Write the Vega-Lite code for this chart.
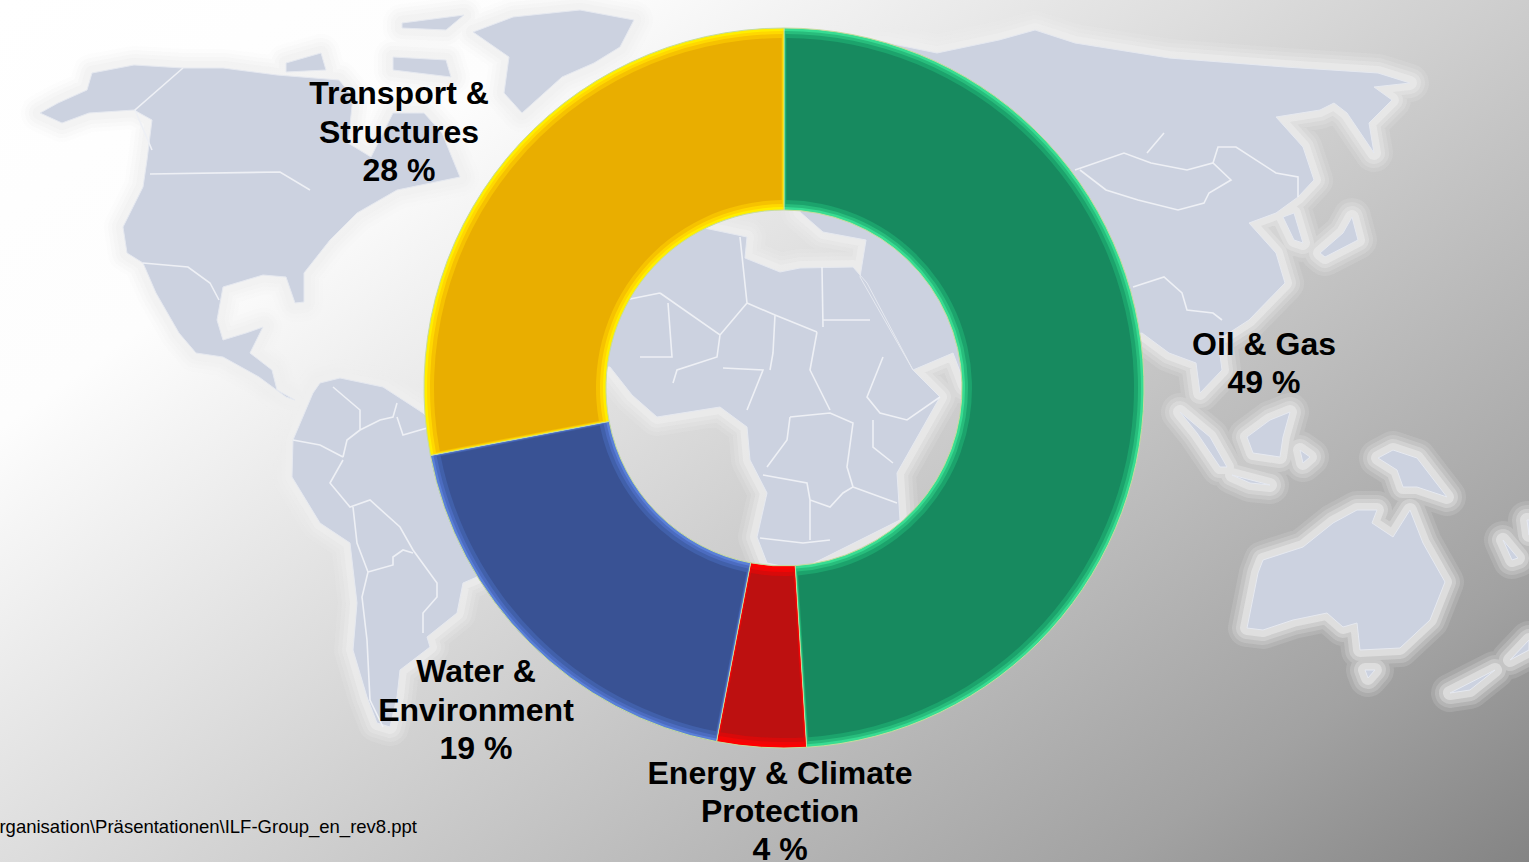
{
"$schema":"https://vega.github.io/schema/vega-lite/v6.json",
"width":1529,"height":862,
"padding":0,
"autosize":{"type":"none"},
"background":"#ffffff",
"config":{"view":{"stroke":null}},
"datasets":{
"sectors":[
{"sector":"Oil & Gas","share":49,"rank":1},
{"sector":"Energy & Climate Protection","share":4,"rank":2},
{"sector":"Water & Environment","share":19,"rank":3},
{"sector":"Transport & Structures","share":28,"rank":4}
],
"land":[
{"type":"Feature","geometry":{"type":"MultiPolygon","coordinates":[
[[[40,113],[58,103],[87,90],[92,73],[134,65],[183,68],[223,68],[277,75],[339,80],[353,97],[348,143],[371,157],[393,113],[424,113],[442,133],[460,177],[397,190],[357,213],[330,240],[304,273],[304,302],[295,303],[286,277],[263,275],[223,287],[217,320],[223,340],[246,333],[263,327],[250,353],[272,370],[277,390],[295,400],[286,397],[259,377],[223,357],[196,353],[179,333],[156,293],[143,263],[127,253],[123,227],[143,187],[147,160],[152,120],[134,110],[89,113],[62,123],[40,113]]],
[[[473,32],[513,17],[580,10],[634,20],[620,47],[594,63],[562,77],[522,113],[504,93],[509,57],[473,32]]],
[[[286,63],[321,53],[326,70],[286,72],[286,63]]],
[[[393,57],[446,60],[451,77],[393,70],[393,57]]],
[[[402,23],[464,15],[446,30],[402,28],[402,23]]],
[[[293,440],[313,393],[320,383],[340,378],[383,387],[423,413],[460,450],[490,560],[477,577],[463,583],[457,613],[427,637],[430,647],[400,670],[397,697],[390,727],[377,723],[367,697],[353,650],[357,603],[350,543],[320,523],[292,477],[293,440]]],
[[[600,367],[610,367],[632,395],[657,417],[720,407],[747,427],[750,460],[767,493],[757,537],[767,563],[800,570],[900,520],[897,473],[940,397],[913,370],[867,283],[853,267],[800,268],[780,272],[745,258],[747,237],[690,225],[620,240],[590,330],[600,367]]],
[[[800,212],[823,232],[866,240],[860,277],[913,370],[953,353],[965,385],[1100,340],[1142,333],[1169,353],[1196,363],[1200,393],[1222,370],[1218,340],[1249,320],[1285,283],[1276,253],[1249,223],[1276,213],[1298,197],[1314,180],[1303,147],[1276,117],[1320,110],[1334,103],[1347,113],[1374,153],[1369,123],[1392,100],[1374,87],[1410,83],[1378,73],[1285,67],[1169,58],[1075,43],[1035,30],[999,40],[937,53],[888,43],[820,40],[800,100],[800,212]]],
[[[1352,217],[1358,240],[1325,257],[1320,253],[1343,233],[1352,217]]],
[[[1294,213],[1303,243],[1294,240],[1283,217],[1294,213]]],
[[[1180,412],[1210,437],[1227,467],[1220,467],[1197,433],[1180,412]]],
[[[1247,437],[1270,420],[1290,412],[1283,437],[1280,457],[1253,453],[1247,437]]],
[[[1232,475],[1270,485],[1250,483],[1232,475]]],
[[[1300,450],[1310,457],[1303,463],[1300,450]]],
[[[1378,458],[1393,450],[1417,458],[1447,497],[1417,487],[1403,487],[1397,470],[1378,458]]],
[[[1247,628],[1258,573],[1263,560],[1303,547],[1333,523],[1357,510],[1377,510],[1372,523],[1393,537],[1410,510],[1423,543],[1445,582],[1430,620],[1400,648],[1360,650],[1357,623],[1343,627],[1327,613],[1293,620],[1263,630],[1247,628]]],
[[[1365,670],[1375,670],[1368,678],[1365,670]]],
[[[1450,693],[1495,670],[1470,690],[1450,693]]],
[[[1510,660],[1529,640],[1529,650],[1510,660]]],
[[[1503,540],[1518,558],[1512,560],[1503,540]]],
[[[1527,520],[1529,520],[1529,535],[1527,520]]]
]}}
],
"borders":[
{"type":"Feature","geometry":{"type":"MultiLineString","coordinates":[
[[183,68],[135,110],[152,150]],
[[150,174],[280,172],[310,190]],
[[143,263],[188,267],[210,283],[219,300]],
[[740,237],[747,303],[720,335],[660,293]],
[[747,303],[775,315],[817,332]],
[[823,320],[870,320]],
[[822,267],[823,327]],
[[817,332],[810,370],[830,410]],
[[775,315],[773,353],[770,370]],
[[668,303],[672,357],[640,357]],
[[720,335],[717,357],[677,370],[673,383]],
[[723,368],[763,370],[747,410]],
[[790,417],[830,413],[853,423],[847,467],[853,487],[843,493],[830,507],[810,500],[807,483],[763,475]],
[[790,417],[787,440],[767,467]],
[[883,357],[867,397],[880,413],[907,420],[940,397]],
[[853,487],[897,503]],
[[873,420],[873,447],[893,463]],
[[760,538],[803,543],[830,540]],
[[810,500],[810,540]],
[[660,293],[625,300]],
[[333,387],[360,410],[360,430],[347,440],[343,457]],
[[343,460],[330,483],[350,507],[370,500],[400,527],[413,550],[437,583],[437,597],[423,613],[423,633]],
[[353,507],[357,543],[368,572],[362,597],[367,640],[370,700],[383,727]],
[[368,572],[393,565],[393,557],[403,550],[413,553]],
[[360,430],[380,420],[393,417],[397,403]],
[[397,417],[403,435],[427,428]],
[[293,440],[320,445],[343,457]],
[[1075,170],[1124,153],[1151,163],[1187,170],[1213,163],[1231,180],[1209,193],[1204,203],[1178,210],[1138,200],[1106,190],[1080,170]],
[[1213,163],[1218,147],[1236,147],[1276,173],[1298,177],[1298,197]],
[[1133,287],[1164,277],[1182,293],[1187,310],[1213,313],[1222,320]],
[[1164,133],[1147,153]]
]}}
]
},
"layer":[
{"data":{"name":"sectors"},
 "mark":{"type":"rect","color":{"gradient":"linear","x1":0,"y1":0,"x2":1.1,"y2":0.873,"stops":[{"offset":0,"color":"#ffffff"},{"offset":0.22,"color":"#fdfdfd"},{"offset":0.44,"color":"#dedede"},{"offset":0.55,"color":"#cecece"},{"offset":0.7,"color":"#b8b8b8"},{"offset":0.85,"color":"#a2a2a2"},{"offset":1,"color":"#848484"}]}},
 "encoding":{
  "x":{"datum":0,"type":"quantitative","scale":{"domain":[0,1529],"nice":false,"zero":false},"axis":null},
  "x2":{"datum":1529},
  "y":{"datum":0,"type":"quantitative","scale":{"domain":[862,0],"nice":false,"zero":false},"axis":null},
  "y2":{"datum":862}}},
{"data":{"name":"land"},"projection":{"type":"identity","scale":1,"translate":[0,0]},
 "mark":{"type":"geoshape","filled":false,"stroke":"#eeeeee","strokeWidth":38,"strokeOpacity":0.14,"strokeJoin":"round"}},
{"data":{"name":"land"},"projection":{"type":"identity","scale":1,"translate":[0,0]},
 "mark":{"type":"geoshape","filled":false,"stroke":"#eeeeee","strokeWidth":30,"strokeOpacity":0.2,"strokeJoin":"round"}},
{"data":{"name":"land"},"projection":{"type":"identity","scale":1,"translate":[0,0]},
 "mark":{"type":"geoshape","filled":false,"stroke":"#eeeeee","strokeWidth":22,"strokeOpacity":0.3,"strokeJoin":"round"}},
{"data":{"name":"land"},"projection":{"type":"identity","scale":1,"translate":[0,0]},
 "mark":{"type":"geoshape","filled":false,"stroke":"#f0f0f0","strokeWidth":14,"strokeOpacity":0.5,"strokeJoin":"round"}},
{"data":{"name":"land"},"projection":{"type":"identity","scale":1,"translate":[0,0]},
 "mark":{"type":"geoshape","fill":"#ccd2e0","stroke":"#e6e9f0","strokeWidth":1}},
{"data":{"name":"borders"},"projection":{"type":"identity","scale":1,"translate":[0,0]},
 "mark":{"type":"geoshape","filled":false,"stroke":"#eef0f5","strokeWidth":1.6}},
{"layer":[
 {"data":{"name":"sectors"},"mark":{"type":"arc","outerRadius":360,"innerRadius":178,"stroke":"#c6dc9e","strokeWidth":1},
  "encoding":{"theta":{"field":"share","type":"quantitative","stack":true,"scale":{"domain":[0,100]}},"order":{"field":"rank","type":"ordinal"},
   "x":{"datum":784,"type":"quantitative"},"y":{"datum":388,"type":"quantitative"},
   "color":{"field":"sector","type":"nominal","legend":null,"scale":{"domain":["Oil & Gas","Energy & Climate Protection","Water & Environment","Transport & Structures"],"range":["#38dc92","#ff0000","#5a80d8","#ffee00"]}}}},
 {"data":{"name":"sectors"},"mark":{"type":"arc","outerRadius":357,"innerRadius":181,"padAngle":0.004},
  "encoding":{"theta":{"field":"share","type":"quantitative","stack":true,"scale":{"domain":[0,100]}},"order":{"field":"rank","type":"ordinal"},
   "x":{"datum":784,"type":"quantitative"},"y":{"datum":388,"type":"quantitative"},
   "color":{"field":"sector","type":"nominal","legend":null,"scale":{"domain":["Oil & Gas","Energy & Climate Protection","Water & Environment","Transport & Structures"],"range":["#28bd7c","#f00606","#4c6cc0","#ffd800"]}}}},
 {"data":{"name":"sectors"},"mark":{"type":"arc","outerRadius":354,"innerRadius":184,"padAngle":0.008},
  "encoding":{"theta":{"field":"share","type":"quantitative","stack":true,"scale":{"domain":[0,100]}},"order":{"field":"rank","type":"ordinal"},
   "x":{"datum":784,"type":"quantitative"},"y":{"datum":388,"type":"quantitative"},
   "color":{"field":"sector","type":"nominal","legend":null,"scale":{"domain":["Oil & Gas","Energy & Climate Protection","Water & Environment","Transport & Structures"],"range":["#1ca36c","#d80a0a","#4160aa","#f6c200"]}}}},
 {"data":{"name":"sectors"},"mark":{"type":"arc","outerRadius":350,"innerRadius":188,"padAngle":0.012},
  "encoding":{"theta":{"field":"share","type":"quantitative","stack":true,"scale":{"domain":[0,100]}},"order":{"field":"rank","type":"ordinal"},
   "x":{"datum":784,"type":"quantitative"},"y":{"datum":388,"type":"quantitative"},
   "color":{"field":"sector","type":"nominal","legend":null,"scale":{"domain":["Oil & Gas","Energy & Climate Protection","Water & Environment","Transport & Structures"],"range":["#178a5f","#bd1010","#395294","#e9ae00"]}}}}
 ],
 "resolve":{"scale":{"color":"independent"}}},
{"data":{"values":[{"label":"Transport &\nStructures\n28 %"}]},"mark":{"type":"text","font":"Liberation Sans","fontWeight":"bold","fontSize":32,"lineHeight":38.6,"lineBreak":"\n","align":"center","baseline":"alphabetic","color":"#000000"},
 "encoding":{"text":{"field":"label"},"x":{"datum":399,"type":"quantitative"},"y":{"datum":104,"type":"quantitative"}}},
{"data":{"values":[{"label":"Oil & Gas\n49 %"}]},"mark":{"type":"text","font":"Liberation Sans","fontWeight":"bold","fontSize":32,"lineHeight":38,"lineBreak":"\n","align":"center","baseline":"alphabetic","color":"#000000"},
 "encoding":{"text":{"field":"label"},"x":{"datum":1264,"type":"quantitative"},"y":{"datum":355,"type":"quantitative"}}},
{"data":{"values":[{"label":"Water &\nEnvironment\n19 %"}]},"mark":{"type":"text","font":"Liberation Sans","fontWeight":"bold","fontSize":32,"lineHeight":38.6,"lineBreak":"\n","align":"center","baseline":"alphabetic","color":"#000000"},
 "encoding":{"text":{"field":"label"},"x":{"datum":476,"type":"quantitative"},"y":{"datum":682,"type":"quantitative"}}},
{"data":{"values":[{"label":"Energy & Climate\nProtection\n4 %"}]},"mark":{"type":"text","font":"Liberation Sans","fontWeight":"bold","fontSize":32,"lineHeight":38.2,"lineBreak":"\n","align":"center","baseline":"alphabetic","color":"#000000"},
 "encoding":{"text":{"field":"label"},"x":{"datum":780,"type":"quantitative"},"y":{"datum":784,"type":"quantitative"}}},
{"data":{"values":[{"label":"Organisation\\Präsentationen\\ILF-Group_en_rev8.ppt"}]},"mark":{"type":"text","font":"Liberation Sans","fontSize":18.5,"align":"right","baseline":"alphabetic","color":"#000000"},
 "encoding":{"text":{"field":"label"},"x":{"datum":417,"type":"quantitative"},"y":{"datum":833,"type":"quantitative"}}}
]
}
